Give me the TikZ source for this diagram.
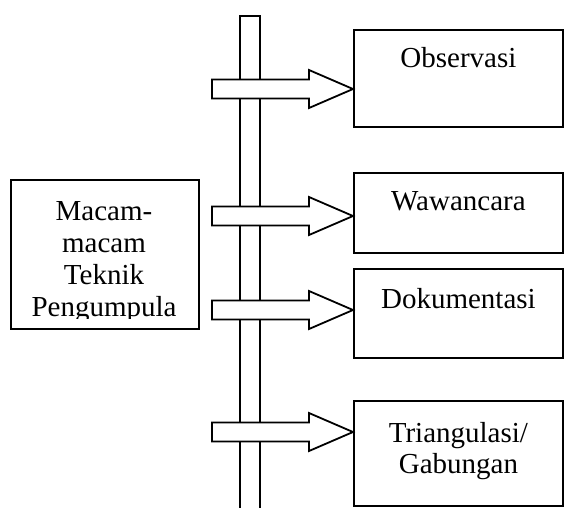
\documentclass[tikz,border=0pt]{standalone}
\usepackage{fontspec}
\setmainfont{Liberation Serif}
\usetikzlibrary{calc}
\tikzset{
  box/.style={draw, line width=1.8pt, fill=white, inner sep=0pt, anchor=north west},
  arrowshape/.style={draw, line width=1.8pt, fill=white, line join=miter},
  bar/.style={draw, line width=1.8pt, fill=white},
  lbl/.style={inner sep=0pt, font=\fontsize{29}{32}\selectfont, align=center}
}
\newcommand\bigarrow[2]{%
  \draw[arrowshape] ($(#1)+(0,-9.5)$) -- ($(#2.west |- #1)+(-44,-9.5)$) -- ++(0,-9.5)
    -- (#2.west |- #1) -- ++(-44,19) -- ++(0,-9.5) -- ($(#1)+(0,9.5)$) -- cycle;}
\begin{document}
\begin{tikzpicture}[x=1pt,y=-1pt]
\useasboundingbox (0,0) rectangle (564,507);
% vertical bar
\draw[bar] (240,510) -- (240,16) -- (260,16) -- (260,510);
% left box
\node[box, minimum width=188pt, minimum height=149pt] (src) at (10,179) {};
\begin{scope}
  \clip (10,179) rectangle (198,318);
  \node[lbl, anchor=north] (srct) at (104,201) {Macam-\\macam\\Teknik\\Pengumpula};
\end{scope}
% right boxes
\node[box, minimum width=209pt, minimum height=97pt] (obs) at (353,29) {};
\node[box, minimum width=209pt, minimum height=80pt] (waw) at (353,172) {};
\node[box, minimum width=209pt, minimum height=89pt] (dok) at (353,268) {};
\node[box, minimum width=209pt, minimum height=105pt] (tri) at (353,400) {};
\node[lbl, anchor=base] (obst) at ([yshift=-38pt]obs.north) {Observasi};
\node[lbl, anchor=base] (wawt) at ([yshift=-38pt]waw.north) {Wawancara};
\node[lbl, anchor=base] (dokt) at ([yshift=-40pt]dok.north) {Dokumentasi};
\node[lbl, anchor=north, font=\fontsize{29}{31.5}\selectfont] (trit) at ([yshift=-22pt]tri.north) {Triangulasi/\\Gabungan};
% arrows
\coordinate (a1) at (212,89);
\coordinate (a2) at (212,216);
\coordinate (a3) at (212,310);
\coordinate (a4) at (212,432);
\bigarrow{a1}{obs}
\bigarrow{a2}{waw}
\bigarrow{a3}{dok}
\bigarrow{a4}{tri}
\end{tikzpicture}
\end{document}
